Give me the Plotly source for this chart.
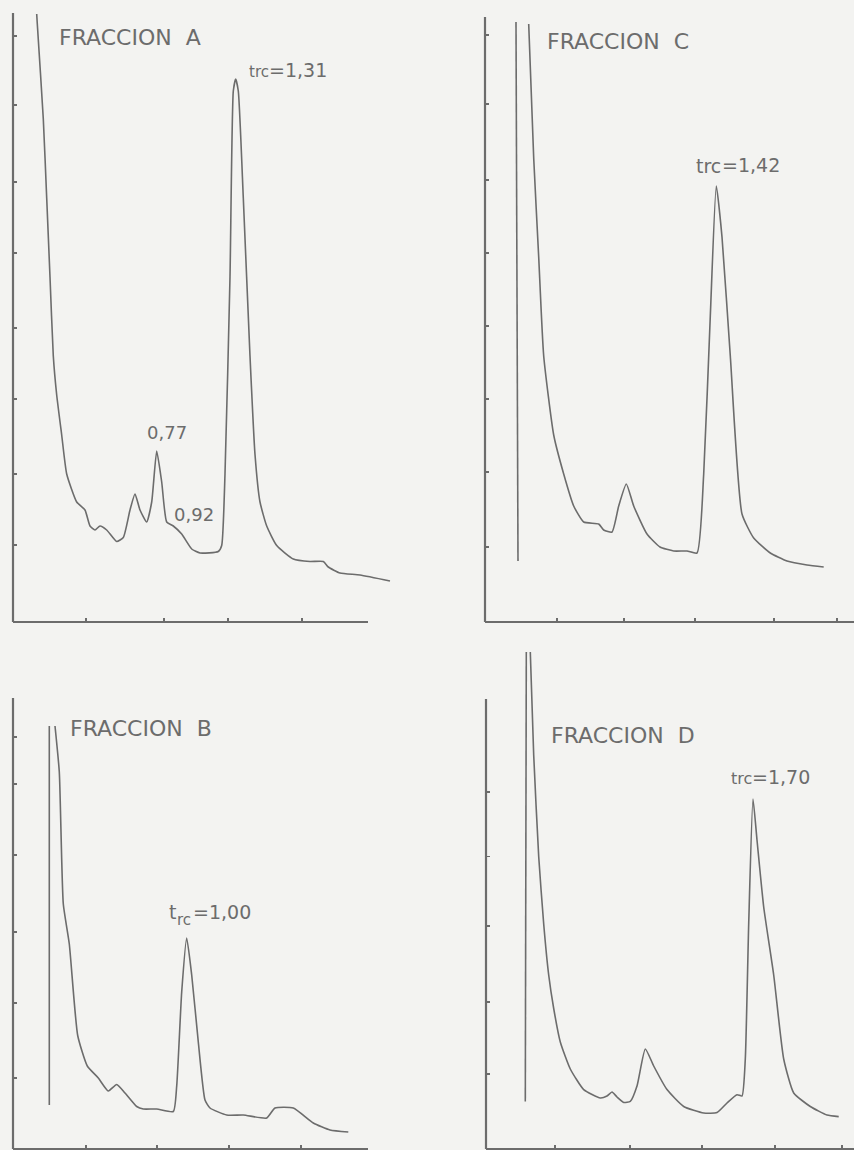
import plotly.graph_objects as go

# ---------------- data (chart units: time axis / pen deflection, 1 unit = 1 mm of chart) -------------
# FRACCION A
a_time = [2.37, 2.43, 3.03, 3.37, 3.70, 4.03, 4.37, 4.87, 5.37, 6.37, 7.2, 7.7, 8.2, 8.7, 9.37,
          10.37, 11.03, 11.7, 12.2, 12.7, 13.37, 13.87, 14.37, 14.87, 15.37, 16.03, 16.87, 17.87,
          18.7, 20.53, 20.87, 21.2, 21.7, 22.03, 22.27, 22.53, 23.03, 23.7, 24.2, 24.7, 25.37,
          26.37, 28.03, 29.7, 31.03, 31.53, 32.7, 34.7, 37.7]
a_signal = [60.8, 59.8, 50.3, 42.4, 34.5, 26.6, 22.7, 18.7, 14.8, 12.0, 11.2, 9.6, 9.2, 9.6, 9.2,
            8.05, 8.45, 11.2, 12.8, 11.2, 10.0, 12.0, 17.1, 14.0, 10.0, 9.6, 8.8, 7.3,
            6.9, 7.05, 7.65, 14.8, 34.5, 53.1, 54.3, 53.1, 42.4, 26.6, 16.75, 12.0, 9.6,
            7.65, 6.3, 6.05, 6.05, 5.5, 4.9, 4.7, 4.1]

# FRACCION C (None separates the injection stroke from the trace)
c_time = [3.3, 3.1, None, 4.37, 4.87, 5.37, 5.87, 6.87, 7.87, 8.87, 9.87, 11.37, 11.87, 12.7,
          13.37, 14.13, 14.87, 16.2, 17.5, 18.87, 20.2, 21.2, 21.87, 22.53, 23.13, 23.7, 24.53,
          25.7, 26.87, 28.53, 30.2, 32.2, 33.87]
c_signal = [6.1, 60.0, None, 59.8, 46.4, 36.5, 26.6, 18.7, 14.8, 11.6, 10.0, 9.8, 9.2, 9.0,
            11.6, 13.8, 11.6, 8.8, 7.5, 7.1, 7.1, 6.9, 14.8, 30.6, 43.6, 38.5, 26.6,
            10.8, 8.4, 6.9, 6.1, 5.7, 5.5]

# FRACCION B
b_time = [3.63, 3.63, None, 4.2, 4.63, 5.03, 5.63, 6.47, 7.43, 8.53, 9.53, 10.37, 11.2, 12.37,
          13.03, 14.37, 16.03, 16.37, 16.87, 17.37, 17.87, 18.53, 19.2, 19.7, 21.37, 23.03,
          25.37, 26.2, 28.03, 30.03, 31.7, 33.53]
b_signal = [4.4, 42.3, None, 42.3, 37.7, 24.5, 20.5, 11.35, 8.3, 7.1, 5.8, 6.45, 5.6, 4.25,
            4.0, 4.0, 3.75, 6.3, 15.7, 21.1, 17.4, 10.7, 4.9, 4.1, 3.4, 3.4,
            3.1, 4.1, 4.1, 2.6, 1.9, 1.7]

# FRACCION D
d_time = [3.93, 4.03, None, 4.43, 4.77, 5.27, 5.77, 6.27, 6.77, 7.43, 8.43, 9.77, 11.43, 12.1,
          12.6, 13.1, 13.77, 14.43, 15.1, 15.93, 16.77, 18.1, 19.77, 21.77, 23.1, 24.1, 25.1,
          25.6, 25.93, 26.27, 26.7, 27.1, 27.77, 28.77, 29.77, 30.77, 32.43, 34.1, 35.27]
d_signal = [4.76, 49.7, None, 49.7, 39.4, 29.25, 22.5, 17.4, 14.05, 10.7, 8.0, 5.94, 5.1, 5.3,
            5.7, 5.2, 4.66, 4.76, 6.3, 10.0, 8.3, 5.94, 4.25, 3.6, 3.64, 4.6, 5.43,
            5.3, 9.0, 22.5, 35.0, 30.9, 24.2, 17.4, 9.0, 5.6, 4.25, 3.4, 3.24]

# tick positions (chart units)
a_xticks = [7.3, 15.1, 21.5, 28.9]
a_yticks = [7.7, 14.8, 22.3, 29.4, 36.9, 44.0, 51.7, 58.6]
c_xticks = [7.2, 13.9, 21.0, 28.9, 35.2]
c_yticks = [7.5, 15.0, 22.3, 29.6, 36.9, 44.2, 51.8, 58.7]
b_xticks = [7.3, 14.4, 21.6, 28.8]
b_yticks = [7.1, 14.6, 21.7, 29.4, 36.5, 41.2]
d_xticks = [6.9, 14.4, 21.6, 28.9, 35.6]
d_yticks = [7.5, 14.7, 22.3, 29.25, 35.7]

# labels: (panel, x, y, text, font size)
labels = [
    (1, 4.4, 58.4, "FRACCION&nbsp;&nbsp;A", 22),
    (1, 23.4, 55.0, "trc", 15),
    (1, 25.4, 55.2, "=1,31", 19),
    (1, 13.2, 18.9, "0,77", 18),
    (1, 15.9, 10.8, "0,92", 18),
    (2, 6.0, 58.0, "FRACCION&nbsp;&nbsp;C", 22),
    (2, 20.9, 45.6, "trc", 19),
    (2, 23.5, 45.7, "=1,42", 19),
    (3, 5.5, 42.1, "FRACCION&nbsp;&nbsp;B", 22),
    (3, 15.4, 23.7, "t", 19),
    (3, 16.2, 22.9, "rc", 15),
    (3, 17.8, 23.7, "=1,00", 19),
    (4, 6.3, 41.4, "FRACCION&nbsp;&nbsp;D", 22),
    (4, 24.3, 37.1, "trc", 16),
    (4, 26.4, 37.2, "=1,70", 19),
]

# ---------------- layout geometry -------------
W, H = 854, 1150
PX_PER_UNIT = 10.0
INK = "#6c6c6c"
PAPER = "#f3f3f1"
FONT = "DejaVu Sans"

# panel: (left px, bottom px, right px, top px), axis line lengths in chart units
panels = {
    "A": dict(box=(13, 622, 400, 10), xlen=35.5, ylen=60.9, t=a_time, s=a_signal,
              xt=a_xticks, yt=a_yticks),
    "C": dict(box=(485, 622, 854, 10), xlen=36.9, ylen=60.5, t=c_time, s=c_signal,
              xt=c_xticks, yt=c_yticks),
    "B": dict(box=(13, 1149, 400, 690), xlen=35.5, ylen=45.1, t=b_time, s=b_signal,
              xt=b_xticks, yt=b_yticks),
    "D": dict(box=(486, 1149, 854, 645), xlen=36.8, ylen=45.0, t=d_time, s=d_signal,
              xt=d_xticks, yt=d_yticks),
}

fig = go.Figure()
shapes = []
layout_axes = {}
for i, (name, p) in enumerate(panels.items(), start=1):
    l, b, r, t = p["box"]
    xs = "" if i == 1 else str(i)
    xr = (r - l) / PX_PER_UNIT
    yr = (b - t) / PX_PER_UNIT
    layout_axes["xaxis" + xs] = dict(
        domain=[l / W, r / W], range=[0, xr], anchor="y" + xs,
        showgrid=False, zeroline=False, showline=False, showticklabels=False,
        ticks="inside", ticklen=4, tickwidth=1.6, tickcolor=INK,
        tickmode="array", tickvals=p["xt"], fixedrange=True)
    layout_axes["yaxis" + xs] = dict(
        domain=[1 - b / H, 1 - t / H], range=[0, yr], anchor="x" + xs,
        showgrid=False, zeroline=False, showline=False, showticklabels=False,
        ticks="inside", ticklen=4, tickwidth=1.6, tickcolor=INK,
        tickmode="array", tickvals=p["yt"], fixedrange=True)
    shapes.append(dict(type="line", xref=f"x{xs} domain", yref=f"y{xs} domain",
                       x0=0, x1=p["xlen"] / xr, y0=0, y1=0,
                       line=dict(color=INK, width=2.2)))
    shapes.append(dict(type="line", xref=f"x{xs} domain", yref=f"y{xs} domain",
                       x0=0, x1=0, y0=0, y1=p["ylen"] / yr,
                       line=dict(color=INK, width=2.2)))
    fig.add_trace(go.Scatter(x=p["t"], y=p["s"], mode="lines", xaxis="x" + xs, yaxis="y" + xs,
                             line=dict(color=INK, width=1.6, shape="spline", smoothing=0.5),
                             connectgaps=False, hoverinfo="skip", showlegend=False))

annotations = []
for idx, x, y, txt, size in labels:
    xs = "" if idx == 1 else str(idx)
    annotations.append(dict(xref="x" + xs, yref="y" + xs, x=x, y=y, text=txt,
                            showarrow=False, xanchor="left", yanchor="middle",
                            font=dict(family=FONT, size=size, color=INK)))

fig.update_layout(width=W, height=H, margin=dict(l=0, r=0, t=0, b=0),
                  paper_bgcolor=PAPER, plot_bgcolor=PAPER,
                  shapes=shapes, annotations=annotations, **layout_axes)

fig.write_html("out.html", config={"displayModeBar": False, "staticPlot": True},
               post_script="document.body.style.margin='0';")
